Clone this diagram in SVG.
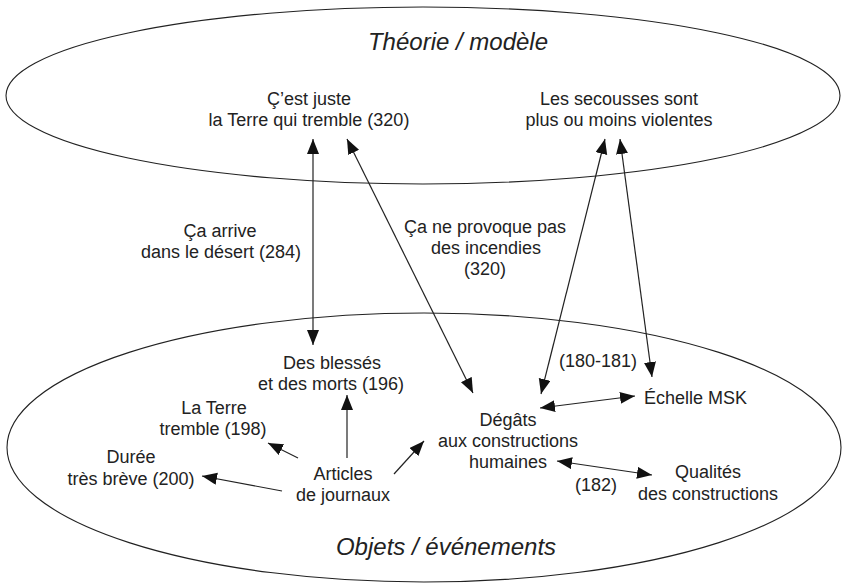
<svg xmlns="http://www.w3.org/2000/svg" width="843" height="583" viewBox="0 0 843 583">
<defs>
<style>
text{font-family:"Liberation Sans",Arial,Helvetica,sans-serif;font-size:18px;fill:#222;text-anchor:middle}
.t{font-style:italic;font-size:24px}
.l{text-anchor:start}
.e{fill:none;stroke:#222;stroke-width:1.1}
.c line{stroke:#222;stroke-width:1.2}
.s{marker-end:url(#ah)}
.d{marker-start:url(#ah);marker-end:url(#ah)}
</style>
<marker id="ah" markerUnits="userSpaceOnUse" markerWidth="16" markerHeight="13" refX="15" refY="6" orient="auto-start-reverse">
<path d="M0,0 L15,6 L0,12 z" fill="#111"/>
</marker>
</defs>
<g id="theorie">
<ellipse class="e" cx="423" cy="95.5" rx="417" ry="88.5"/>
<text class="t" x="458" y="50">Théorie / modèle</text>
</g>
<g id="objets">
<ellipse class="e" cx="424" cy="447.5" rx="417" ry="134.5"/>
<text class="t" x="446" y="555">Objets / événements</text>
</g>
<g id="n-terre-tremble"><text x="309" y="105">Ç’est juste</text><text x="309" y="126">la Terre qui tremble (320)</text></g>
<g id="n-secousses"><text x="619" y="105">Les secousses sont</text><text x="619" y="126">plus ou moins violentes</text></g>
<g id="n-blesses"><text x="332" y="369">Des blessés</text><text x="331" y="390">et des morts (196)</text></g>
<g id="n-la-terre"><text x="214" y="414">La Terre</text><text x="213" y="435">tremble (198)</text></g>
<g id="n-duree"><text x="131" y="463">Durée</text><text x="131" y="485">très brève (200)</text></g>
<g id="n-articles"><text x="343" y="480">Articles</text><text x="343" y="501">de journaux</text></g>
<g id="n-degats"><text x="508" y="426">Dégâts</text><text x="508" y="447">aux constructions</text><text x="508" y="468">humaines</text></g>
<g id="n-msk"><text class="l" x="644" y="404">Échelle MSK</text></g>
<g id="n-qualites"><text x="708" y="478">Qualités</text><text x="708" y="500">des constructions</text></g>
<g id="connectors" class="c">
<line class="d" x1="313" y1="139" x2="313" y2="345"/>
<line class="d" x1="347" y1="139" x2="473" y2="393"/>
<line class="d" x1="605" y1="139" x2="541" y2="394"/>
<line class="d" x1="620" y1="139" x2="652" y2="377"/>
<line class="d" x1="540" y1="408" x2="635" y2="396"/>
<line class="d" x1="557" y1="461" x2="652" y2="475"/>
<line class="s" x1="347" y1="458" x2="347" y2="395"/>
<line class="s" x1="298" y1="458" x2="268" y2="443"/>
<line class="s" x1="282" y1="491" x2="202" y2="476"/>
<line class="s" x1="394" y1="474" x2="424" y2="441"/>
<text x="220" y="237">Ça arrive</text>
<text x="221" y="258">dans le désert (284)</text>
<text x="485" y="233">Ça ne provoque pas</text>
<text x="486" y="254">des incendies</text>
<text x="485" y="275">(320)</text>
<text x="598" y="367">(180-181)</text>
<text x="596" y="491">(182)</text>
</g>
</svg>
